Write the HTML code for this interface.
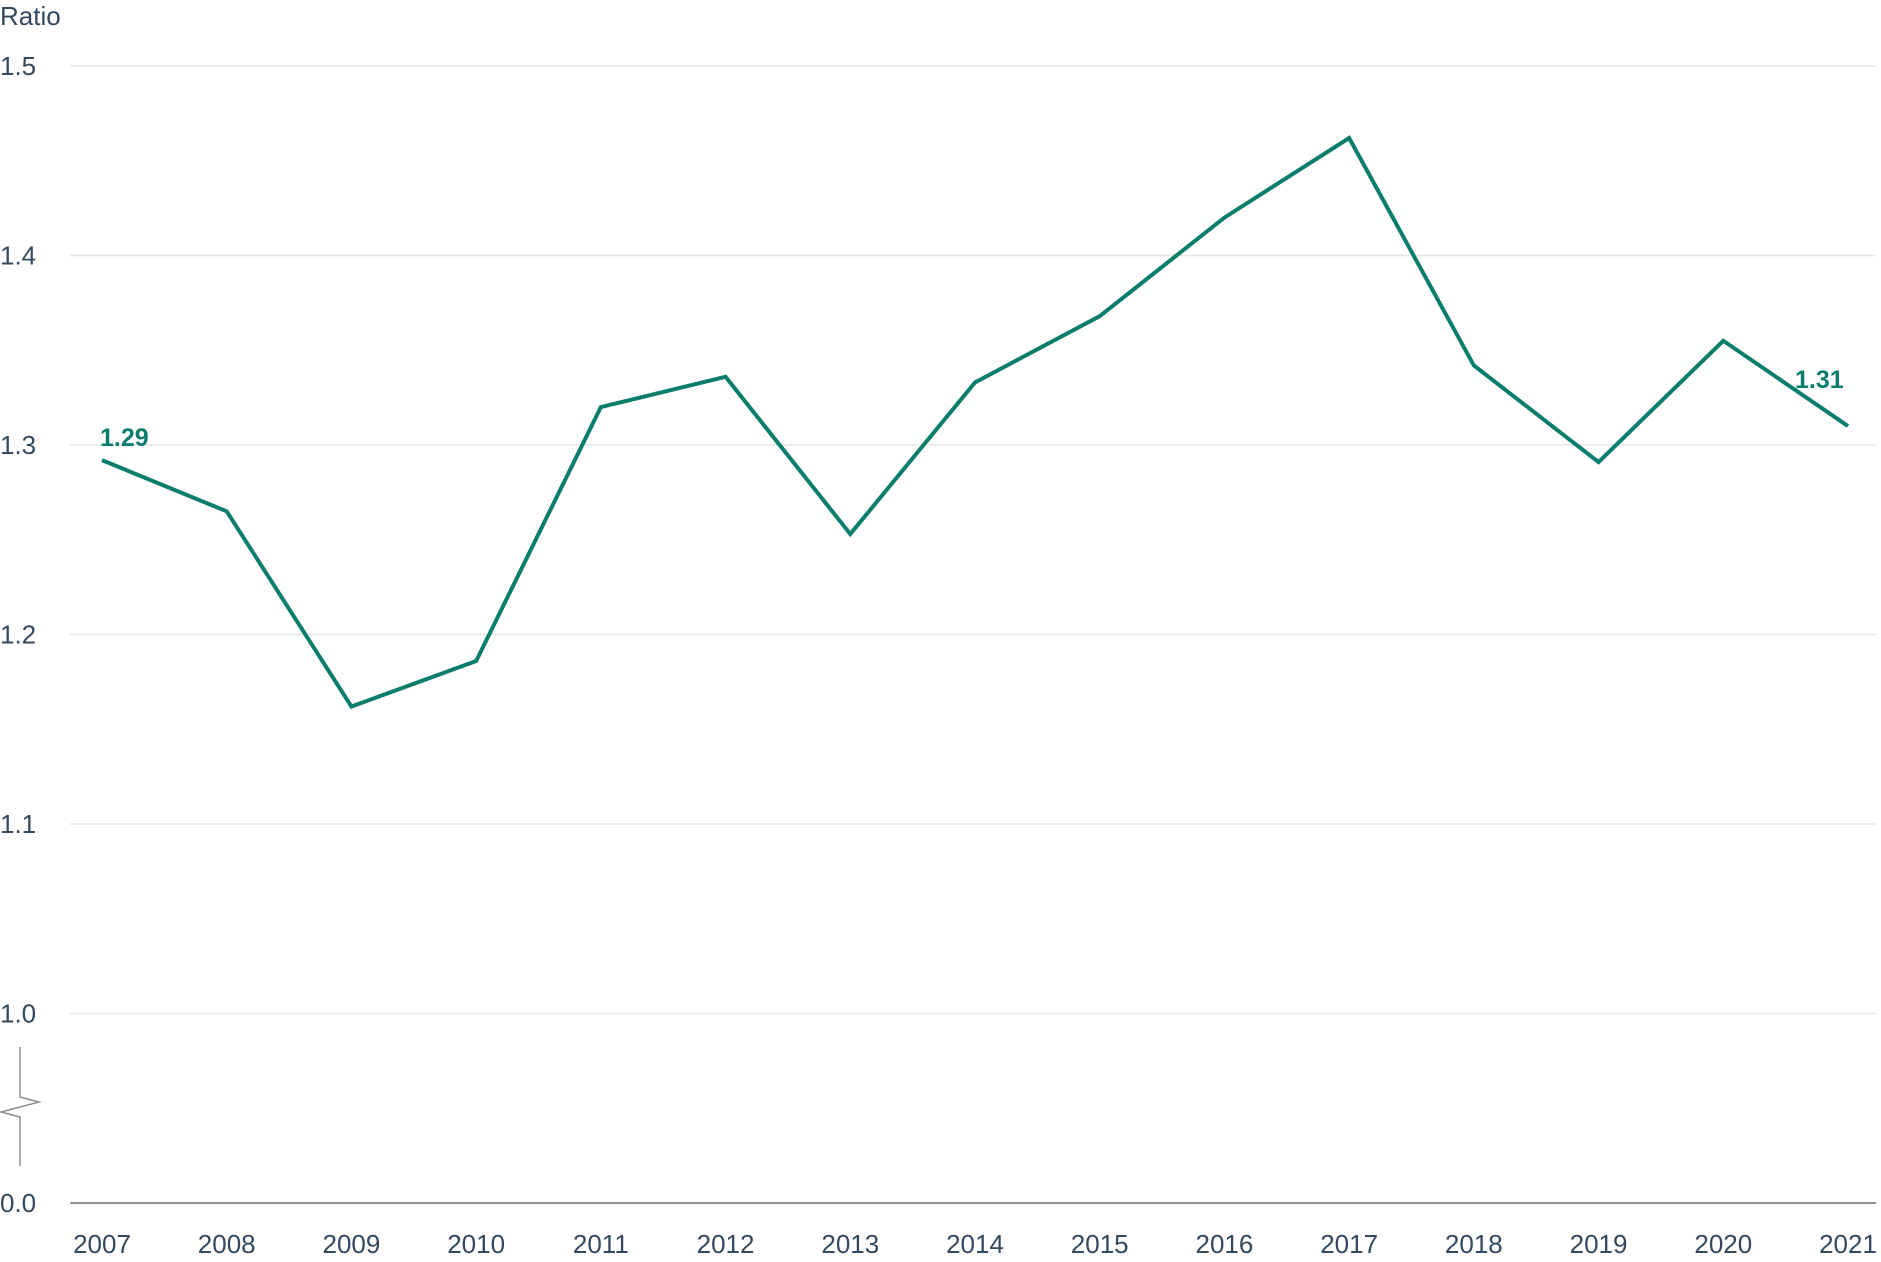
<!DOCTYPE html>
<html><head><meta charset="utf-8"><style>
html,body{margin:0;padding:0;background:#fff;}
svg{display:block;font-family:"Liberation Sans",sans-serif;}
</style></head><body>
<svg id="chart" width="1881" height="1262">
<text x="0" y="25" font-size="26" fill="#34495e">Ratio</text>
<g id="grid"></g>
<g id="yticks"></g>
<g id="xticks"></g>
<line x1="70" y1="1203" x2="1876" y2="1203" stroke="#6b7178" stroke-width="1.5"/>
<polyline points="20,1047 20,1097 39,1102 1,1112 20,1117 20,1166" fill="none" stroke="#8a8f94" stroke-width="1.5"/>
<g id="series"></g>
</svg>
<script>
const years = ["2007","2008","2009","2010","2011","2012","2013","2014","2015","2016","2017","2018","2019","2020","2021"];
const ratios = [1.292,1.265,1.162,1.186,1.320,1.336,1.253,1.333,1.368,1.420,1.462,1.342,1.291,1.355,1.310];
const yTickValues = [1.5,1.4,1.3,1.2,1.1,1.0];
const yTickLabels = ["1.5","1.4","1.3","1.2","1.1","1.0"];
const ns = "http://www.w3.org/2000/svg";
function xPos(i){ return 102 + i*(1848-102)/(years.length-1); }
function yPos(v){ return 66 + (1.5 - v)*1895; }
const grid = document.getElementById('grid'), yt = document.getElementById('yticks'), xt = document.getElementById('xticks'), s = document.getElementById('series');
yTickValues.forEach((v,k)=>{
  const l = document.createElementNS(ns,'line');
  l.setAttribute('x1',70); l.setAttribute('x2',1876);
  l.setAttribute('y1',yPos(v)); l.setAttribute('y2',yPos(v));
  l.setAttribute('stroke','#e6e6e6'); l.setAttribute('stroke-width','1.5');
  
  
  grid.appendChild(l);
  const t = document.createElementNS(ns,'text');
  t.setAttribute('x',0); t.setAttribute('y',yPos(v)+9);
  t.setAttribute('font-size','26'); t.setAttribute('fill','#34495e');
  t.textContent = yTickLabels[k];
  
  
  yt.appendChild(t);
});
const z = document.createElementNS(ns,'text');
z.setAttribute('x',0); z.setAttribute('y',1212);
z.setAttribute('font-size','26'); z.setAttribute('fill','#34495e');
z.textContent = "0.0";


yt.appendChild(z);
years.forEach((y,i)=>{
  const t = document.createElementNS(ns,'text');
  t.setAttribute('x',xPos(i)); t.setAttribute('y',1253);
  t.setAttribute('font-size','26'); t.setAttribute('fill','#34495e');
  t.setAttribute('text-anchor', i===years.length-1 ? 'middle' : 'middle');
  t.textContent = y;
  
  
  xt.appendChild(t);
});
const p = document.createElementNS(ns,'polyline');
p.setAttribute('points', ratios.map((v,i)=>xPos(i)+','+yPos(v)).join(' '));
p.setAttribute('fill','none'); p.setAttribute('stroke','#0b7d6c'); p.setAttribute('stroke-width','4');


s.appendChild(p);
const a = document.createElementNS(ns,'text');
a.setAttribute('x',xPos(0)-2); a.setAttribute('y',yPos(ratios[0])-14);
a.setAttribute('font-size','25'); a.setAttribute('font-weight','bold'); a.setAttribute('fill','#0b7d6c');
a.textContent = ratios[0].toFixed(2);


s.appendChild(a);
const b = document.createElementNS(ns,'text');
const li = ratios.length-1;
b.setAttribute('x',xPos(li)-53); b.setAttribute('y',yPos(ratios[li])-38);
b.setAttribute('font-size','25'); b.setAttribute('font-weight','bold'); b.setAttribute('fill','#0b7d6c');
b.textContent = ratios[li].toFixed(2);


s.appendChild(b);
</script>
</body></html>
